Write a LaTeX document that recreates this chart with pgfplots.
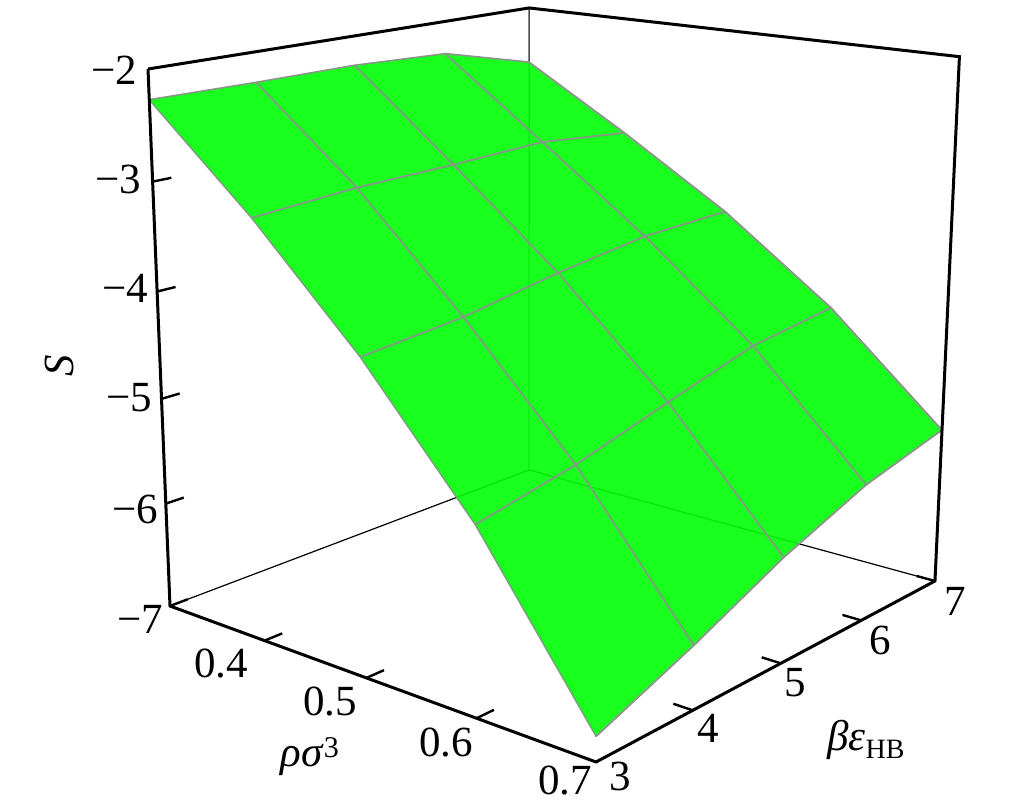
\documentclass[border=0pt]{standalone}
\usepackage{pgfplots}
\usepackage{pgfplotstable}
\pgfplotsset{compat=1.18}
\usepackage{fontspec}
\setmainfont{Liberation Serif}
\definecolor{surf}{RGB}{0,255,6}
\definecolor{gridg}{RGB}{138,148,138}
% perspective of the box: rho 0.3..0.7, beta 3..7, S -7..-2
\pgfmathdeclarefunction{px}{3}{\pgfmathparse{(170+339.94*(#1-0.3)/0.4+448.88*(#2-3)/4-30.58*(#3+7)/5)/(1-0.1444*(#1-0.3)/0.4+0.1699*(#2-3)/4-0.058*(#3+7)/5)}}
\pgfmathdeclarefunction{py}{3}{\pgfmathparse{803-(606+45.97*(#1-0.3)/0.4-56.15*(#2-3)/4-541*(#3+7)/5)/(1-0.1444*(#1-0.3)/0.4+0.1699*(#2-3)/4-0.058*(#3+7)/5)}}
\pgfplotsset{/pgfplots/table/proj/.style={
  x expr={px(\thisrow{r},\thisrow{b},\thisrow{s})},
  y expr={py(\thisrow{r},\thisrow{b},\thisrow{s})}}}
\pgfplotstableread{
r b s
0.3 3 -2.27
0.3 4 -2.28
0.3 5 -2.28
0.3 6 -2.32
0.3 7 -2.56
0.4 3 -3.145
0.4 4 -3.09
0.4 5 -3.08
0.4 6 -3.055
0.4 7 -3.15
0.5 3 -4.14
0.5 4 -4.06
0.5 5 -3.91
0.5 6 -3.80
0.5 7 -3.78
0.6 3 -5.31
0.6 4 -5.13
0.6 5 -4.88
0.6 6 -4.64
0.6 7 -4.54
0.7 3 -6.78
0.7 4 -6.42
0.7 5 -6.02
0.7 6 -5.70
0.7 7 -5.50
}\surfdata
\newcommand{\lab}[3]{\node[font=\fontsize{43}{50}\selectfont,inner sep=0pt] at (axis cs:#1,{803-#2}) {#3};}
\begin{document}
\begin{tikzpicture}
\useasboundingbox (0,0) rectangle (1033pt,803pt);
\begin{axis}[at={(0,0)},anchor=south west,scale only axis,width=1033pt,height=803pt,
  xmin=0,xmax=1033,ymin=0,ymax=803,hide axis,clip=false,
  colormap={one}{color=(surf) color=(surf)},point meta min=0,point meta max=1]
% back edges, seen through the surface
\addplot[black,line width=1.2pt,no marks] table[proj,row sep=\\]{r b s\\ 0.3 3 -7\\ 0.3 7 -7\\ 0.7 7 -7\\};
\addplot[black!70,line width=1.4pt,no marks] table[proj,row sep=\\]{r b s\\ 0.3 7 -7\\ 0.3 7 -2\\};
% surface
\addplot[patch,patch type=rectangle,shader=faceted,faceted color=gridg,line width=1.6pt,
  fill opacity=0.9,point meta=0.5,table/row sep=\\,
  patch table={0 1 6 5\\ 1 2 7 6\\ 2 3 8 7\\ 3 4 9 8\\
5 6 11 10\\ 6 7 12 11\\ 7 8 13 12\\ 8 9 14 13\\
10 11 16 15\\ 11 12 17 16\\ 12 13 18 17\\ 13 14 19 18\\
15 16 21 20\\ 16 17 22 21\\ 17 18 23 22\\ 18 19 24 23\\
}] table[proj]{\surfdata};
% front and top edges
\addplot[black,line width=3pt,no marks,line join=miter] table[proj,row sep=\\]{r b s\\ 0.3 3 -2\\ 0.3 3 -7\\ 0.7 3 -7\\ 0.7 7 -7\\ 0.7 7 -2\\ 0.3 7 -2\\ 0.3 3 -2\\};
% ticks
\pgfplotsinvokeforeach{-7,-6,-5,-4,-3}{
  \addplot[black,line width=2.4pt,no marks] table[proj,row sep=\\]{r b s\\ 0.3 3 #1\\ 0.3 3.17 #1\\};}
\pgfplotsinvokeforeach{0.4,0.5,0.6}{
  \addplot[black,line width=2.4pt,no marks] table[proj,row sep=\\]{r b s\\ #1 3 -7\\ #1 3.17 -7\\};}
\pgfplotsinvokeforeach{4,5,6,7}{
  \addplot[black,line width=2.4pt,no marks] table[proj,row sep=\\]{r b s\\ 0.7 #1 -7\\ 0.684 #1 -7\\};}
% tick labels
\lab{114}{70}{−2}\lab{118}{179}{−3}\lab{125}{288}{−4}\lab{129.5}{398}{−5}\lab{135.5}{509}{−6}\lab{140}{619}{−7}
\lab{221}{664}{0.4}\lab{330}{702}{0.5}\lab{446}{743}{0.6}\lab{565}{781}{0.7}
\lab{620}{776}{3}\lab{708}{728}{4}\lab{795}{683}{5}\lab{880}{640}{6}\lab{955}{601}{7}
\node[font=\fontsize{43}{50}\selectfont,rotate=90,inner sep=0pt] at (axis cs:59,437) {\textit{S}};
\lab{310}{757}{\textit{ρσ}\textsuperscript{3}}
\lab{866}{740}{\textit{βε}\raisebox{-0.18em}{\fontsize{28}{30}\selectfont HB}}
\end{axis}
\end{tikzpicture}
\end{document}
